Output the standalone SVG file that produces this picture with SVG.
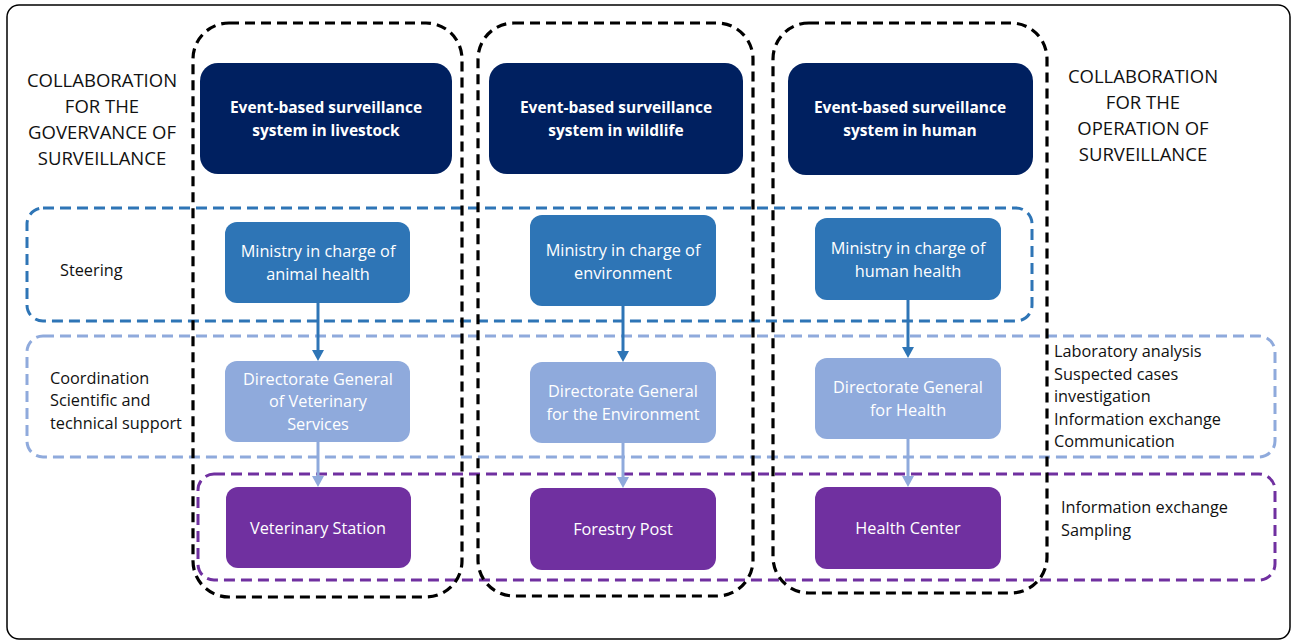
<svg xmlns="http://www.w3.org/2000/svg" width="1293" height="641" viewBox="0 0 1293 641">
<defs>
<style>
text{font-family:"Open Sans","Noto Sans",sans-serif;}
.hdr{font-size:15.5px;fill:#fff;font-weight:bold;text-anchor:middle;}
.nt{font-size:16.3px;fill:#fff;text-anchor:middle;}
.lbl{font-size:16.3px;fill:#111;}
.big{font-size:18.5px;fill:#111;text-anchor:middle;}
.col{fill:none;stroke:#000;stroke-width:3.2;stroke-dasharray:10 6;}
.band1{fill:none;stroke:#2E75B6;stroke-width:3;stroke-dasharray:11 6;}
.band2{fill:none;stroke:#8FAADC;stroke-width:3;stroke-dasharray:11 6;}
.band3{fill:none;stroke:#7030A0;stroke-width:3;stroke-dasharray:11 6;}
.navy{fill:#002060;}
.mid{fill:#2E75B6;}
.light{fill:#8FAADC;}
.purp{fill:#7030A0;}
.a1{stroke:#2E75B6;stroke-width:3;fill:none;}
.a2{stroke:#8FAADC;stroke-width:3;fill:none;}
</style>
</defs>
<rect x="7" y="5" width="1283" height="634" rx="12" fill="#fff" stroke="#000" stroke-width="1.5"/>

<g id="bands">
<rect class="band1" x="27" y="208" width="1005" height="113" rx="16"/>
<rect class="band2" x="27" y="336" width="1248" height="121" rx="16"/>
<rect class="band3" x="198" y="474" width="1077" height="106" rx="16"/>
</g>

<g id="columns">
<rect class="col" x="193" y="23" width="269" height="574" rx="36"/>
<rect class="col" x="478" y="23" width="275" height="573" rx="36"/>
<rect class="col" x="773" y="23" width="274" height="570" rx="36"/>
</g>

<g id="labels">
<text class="big" x="102"><tspan x="102" y="87">COLLABORATION</tspan><tspan x="102" y="113">FOR THE</tspan><tspan x="102" y="139">GOVERVANCE OF</tspan><tspan x="102" y="165">SURVEILLANCE</tspan></text>
<text class="big" x="1143"><tspan x="1143" y="83">COLLABORATION</tspan><tspan x="1143" y="109">FOR THE</tspan><tspan x="1143" y="135">OPERATION OF</tspan><tspan x="1143" y="161">SURVEILLANCE</tspan></text>
<text class="lbl" x="60" y="276">Steering</text>
<text class="lbl"><tspan x="50" y="384">Coordination</tspan><tspan x="50" y="406">Scientific and</tspan><tspan x="50" y="429">technical support</tspan></text>
<text class="lbl"><tspan x="1054" y="357">Laboratory analysis</tspan><tspan x="1054" y="380">Suspected cases</tspan><tspan x="1054" y="402">investigation</tspan><tspan x="1054" y="425">Information exchange</tspan><tspan x="1054" y="447">Communication</tspan></text>
<text class="lbl"><tspan x="1061" y="513">Information exchange</tspan><tspan x="1061" y="536">Sampling</tspan></text>
</g>

<g id="connectors">
<line class="a1" x1="318" y1="303" x2="318" y2="352"/>
<path d="M312,350 L324,350 L318,361 Z" fill="#2E75B6"/>
<line class="a2" x1="318" y1="442" x2="318" y2="478"/>
<path d="M312,476 L324,476 L318,487 Z" fill="#8FAADC"/>
<line class="a1" x1="623" y1="306" x2="623" y2="353"/>
<path d="M617,351 L629,351 L623,362 Z" fill="#2E75B6"/>
<line class="a2" x1="623" y1="443" x2="623" y2="479"/>
<path d="M617,477 L629,477 L623,488 Z" fill="#8FAADC"/>
<line class="a1" x1="908" y1="300" x2="908" y2="349"/>
<path d="M902,347 L914,347 L908,358 Z" fill="#2E75B6"/>
<line class="a2" x1="908" y1="439" x2="908" y2="478"/>
<path d="M902,476 L914,476 L908,487 Z" fill="#8FAADC"/>
</g>

<g id="n-livestock"><rect class="navy" x="200" y="63" width="252" height="111" rx="18"/><text class="hdr"><tspan x="326" y="113">Event-based surveillance</tspan><tspan x="326" y="136">system in livestock</tspan></text></g>
<g id="n-wildlife"><rect class="navy" x="489" y="63" width="254" height="111" rx="18"/><text class="hdr"><tspan x="616" y="113">Event-based surveillance</tspan><tspan x="616" y="136">system in wildlife</tspan></text></g>
<g id="n-human"><rect class="navy" x="788" y="63" width="245" height="112" rx="18"/><text class="hdr"><tspan x="910" y="113">Event-based surveillance</tspan><tspan x="910" y="136">system in human</tspan></text></g>

<g id="n-min-animal"><rect class="mid" x="225" y="222" width="185" height="81" rx="12"/><text class="nt"><tspan x="318" y="257">Ministry in charge of</tspan><tspan x="318" y="280">animal health</tspan></text></g>
<g id="n-min-env"><rect class="mid" x="530" y="215" width="186" height="91" rx="12"/><text class="nt"><tspan x="623" y="256">Ministry in charge of</tspan><tspan x="623" y="279">environment</tspan></text></g>
<g id="n-min-human"><rect class="mid" x="815" y="218" width="186" height="82" rx="12"/><text class="nt"><tspan x="908" y="254">Ministry in charge of</tspan><tspan x="908" y="277">human health</tspan></text></g>

<g id="n-dg-vet"><rect class="light" x="225" y="361" width="185" height="81" rx="12"/><text class="nt"><tspan x="318" y="385">Directorate General</tspan><tspan x="318" y="407">of Veterinary</tspan><tspan x="318" y="430">Services</tspan></text></g>
<g id="n-dg-env"><rect class="light" x="530" y="362" width="186" height="81" rx="12"/><text class="nt"><tspan x="623" y="397">Directorate General</tspan><tspan x="623" y="420">for the Environment</tspan></text></g>
<g id="n-dg-health"><rect class="light" x="815" y="358" width="186" height="81" rx="12"/><text class="nt"><tspan x="908" y="393">Directorate General</tspan><tspan x="908" y="416">for Health</tspan></text></g>

<g id="n-vet-station"><rect class="purp" x="226" y="487" width="185" height="81" rx="12"/><text class="nt" x="318" y="534">Veterinary Station</text></g>
<g id="n-forestry"><rect class="purp" x="530" y="488" width="186" height="82" rx="12"/><text class="nt" x="623" y="535">Forestry Post</text></g>
<g id="n-health-center"><rect class="purp" x="815" y="487" width="186" height="82" rx="12"/><text class="nt" x="908" y="534">Health Center</text></g>
</svg>
